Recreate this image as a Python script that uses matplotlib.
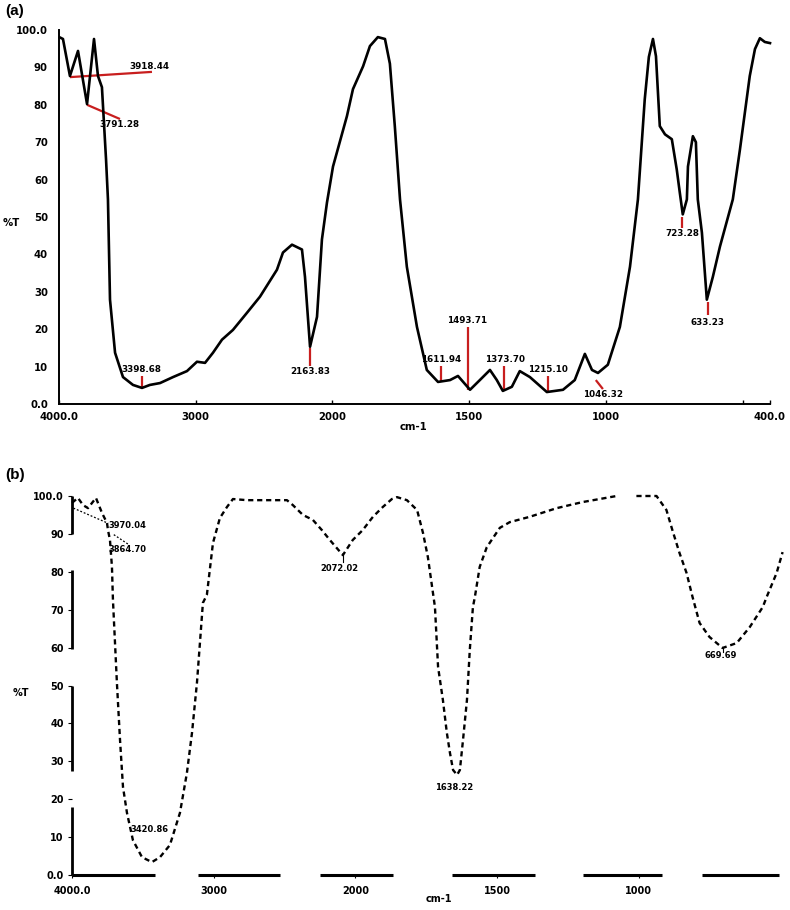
import matplotlib
matplotlib.use('Agg')
import matplotlib.pyplot as plt
import numpy as np

# FTIR spectrum (a): wavenumber (cm-1) and %T
wn_a = [3993, 3971, 3920, 3861, 3795, 3744, 3715, 3686, 3656, 3642, 3627,
        3590, 3532, 3459, 3393, 3335, 3261, 3166, 3064, 2991, 2932, 2874,
        2808, 2728, 2625, 2530, 2406, 2362, 2296, 2223, 2201, 2164, 2113,
        2077, 2040, 1998, 1947, 1925, 1888, 1863, 1834, 1808, 1790, 1772,
        1753, 1728, 1691, 1655, 1614, 1570, 1541, 1497, 1461, 1424, 1399,
        1377, 1344, 1315, 1278, 1216, 1157, 1114, 1077, 1051, 1029, 993,
        949, 912, 883, 858, 843, 828, 817, 803, 784, 759, 741, 730, 719,
        704, 700, 682, 671, 664, 649, 631, 609, 583, 536, 510, 474, 455,
        437, 419, 400]
t_a = [98.0, 97.6, 87.7, 94.4, 80.2, 97.6, 87.7, 84.7, 65.4, 54.7, 27.9,
       13.7, 7.2, 5.1, 4.3, 5.1, 5.6, 7.2, 8.8, 11.3, 11.0, 13.7,
       17.2, 19.8, 24.4, 28.7, 35.9, 40.5, 42.6, 41.3, 34.0, 15.3, 23.3,
       44.0, 53.9, 63.5, 77.0, 84.2, 90.3, 95.7, 98.1, 97.6, 91.0, 74.3,
       54.7, 36.7, 20.6, 9.1, 5.9, 6.4, 7.5, 3.8, 6.4, 9.1, 6.4,
       3.5, 4.6, 8.8, 7.2, 3.2, 3.8, 6.4, 13.4, 9.1, 8.3, 10.5,
       20.6, 36.7, 54.7, 81.5, 92.8, 97.6, 93.0, 74.3, 72.1, 70.8, 62.7, 56.6, 50.7,
       54.7, 63.5, 71.6, 70.0, 54.7, 45.8, 27.9, 34.0, 42.1, 54.7, 68.0, 87.7, 94.9,
       97.8, 96.8, 96.5]

# peak labels (a): text, red marker line (x0, y0, x1, y1), label position, vertical anchor
peaks_a = [
    ("3918.44", (3920, 87.4, 3320, 88.8), (3342, 89.0), 'bottom'),
    ("3791.28", (3795, 80.0, 3554, 76.2), (3556, 76.0), 'top'),
    ("3398.68", (3393, 7.5, 3393, 4.3), (3400, 7.9), 'bottom'),
    ("2163.83", (2164, 15.0, 2164, 10.2), (2164, 9.8), 'top'),
    ("1611.94", (1603, 10.2, 1603, 5.9), (1603, 10.6), 'bottom'),
    ("1493.71", (1505, 20.6, 1505, 3.7), (1507, 21.0), 'bottom'),
    ("1373.70", (1372, 10.2, 1372, 3.5), (1369, 10.6), 'bottom'),
    ("1215.10", (1212, 7.5, 1212, 3.2), (1212, 8.0), 'bottom'),
    ("1046.32", (1037, 6.4, 1011, 4.0), (1011, 3.7), 'top'),
    ("723.28", (722, 50.0, 722, 47.0), (722, 46.8), 'top'),
    ("633.23", (627, 27.3, 627, 23.8), (627, 23.0), 'top'),
]

# FTIR spectrum (b); nan marks the break in the trace
wn_b = [4000, 3958, 3922, 3887, 3831, 3788, 3753, 3746, 3732, 3718, 3711,
        3683, 3661, 3640, 3612, 3570, 3506, 3436, 3379, 3309, 3238, 3189,
        3153, 3118, 3097, 3076, 3048, 3005, 2956, 2906, 2864, 2765, 2624,
        2483, 2441, 2370, 2300, 2236, 2180, 2088, 2018, 1974, 1938, 1903,
        1871, 1853, 1818, 1782, 1761, 1744, 1726, 1719, 1708, 1691, 1677,
        1666, 1655, 1641, 1631, 1620, 1606, 1596, 1585, 1578, 1561, 1536,
        1490, 1455, 1385, 1289, 1198, 1078, 1040, 1008, 937, 902, 881, 856,
        831, 810, 785, 750, 704, 654, 608, 562, 548, 513, 492]
t_b = [98.2, 99.5, 97.6, 96.8, 99.5, 95.5, 92.9, 91.0, 88.4, 81.3, 72.6,
       50.7, 35.6, 23.2, 16.4, 9.2, 4.7, 3.4, 4.7, 7.9, 16.4, 26.9,
       37.5, 50.7, 61.2, 71.8, 73.9, 87.6, 94.2, 97.1, 99.2, 98.9, 98.9,
       98.9, 97.6, 95.0, 93.7, 91.0, 88.4, 84.4, 88.4, 91.0, 94.5, 97.1,
       99.2, 99.7, 98.9, 96.3, 90.2, 83.9, 74.4, 70.7, 54.9, 46.2, 37.5,
       32.2, 27.7, 26.4, 27.7, 35.6, 46.2, 59.4, 70.7, 73.4, 81.3, 86.5,
       91.6, 93.1, 94.5, 96.8, 98.4, 100.0, np.nan, 100.0, 100.0, 96.3, 91.0, 85.0,
       79.7, 73.4, 66.5, 62.8, 59.9, 61.2, 65.4, 70.7, 73.4, 79.7, 85.2]

peaks_b = [
    ("3420.86", (3450, 11.9)),
    ("2072.02", (2112, 81.0)),
    ("1638.22", (1652, 23.0)),
    ("669.69", (712, 57.8)),
    ("3970.04", (3612, 92.3)),
    ("3864.70", (3605, 85.8)),
]

# faded pieces of the scanned axes in (b)
xaxis_pieces_b = [(4000, 3414), (3111, 2533), (2250, 1868), (1659, 1366), (1198, 916), (778, 503)]
yaxis_pieces_b = [(100, 90), (80.5, 59.5), (50, 27.5), (18, 0)]

ticks_y = [0, 10, 20, 30, 40, 50, 60, 70, 80, 90, 100]
ticklab_y = ['0.0', '10', '20', '30', '40', '50', '60', '70', '80', '90', '100.0']


# spectrometer x scale: 4000-2000 is compressed by 2
def fwd(w):
    w = np.asarray(w, dtype=float)
    return np.where(w > 2000, 2000 + (w - 2000) / 2.0, w)


def inv(g):
    g = np.asarray(g, dtype=float)
    return np.where(g > 2000, 2000 + (g - 2000) * 2.0, g)


W, H = 790, 910
fig = plt.figure(figsize=(W / 100, H / 100), dpi=100)
bold = dict(fontweight='bold', family='DejaVu Sans')
red = '#c81e1e'

# ---------------- (a)
ax = fig.add_axes([59 / W, 1 - 404 / H, (770 - 59) / W, (404 - 30) / H])
ax.set_xscale('function', functions=(fwd, inv))
ax.set_xlim(4000, 400)
ax.set_ylim(0, 100)
for lab, (x0, y0, x1, y1), (tx, ty), va in peaks_a:
    ax.plot([x0, x1], [y0, y1], color=red, lw=1.6, zorder=2, solid_capstyle='butt')
ax.plot(wn_a, t_a, color='black', lw=1.9, zorder=3, clip_on=False)
for lab, _, (tx, ty), va in peaks_a:
    ax.text(tx, ty, lab, ha='center', va=va, fontsize=6.3, zorder=4, **bold)
for s in ['top', 'right']:
    ax.spines[s].set_visible(False)
for s in ['left', 'bottom']:
    ax.spines[s].set_linewidth(1.4)
ax.set_yticks(ticks_y)
ax.set_yticklabels(ticklab_y, fontsize=7.3, **bold)
ax.set_xticks([4000, 3000, 2000, 1500, 1000, 500, 400])
ax.set_xticklabels(['4000.0', '3000', '2000', '1500', '1000', '', '400.0'], fontsize=7.3, **bold)
ax.xaxis.set_minor_locator(matplotlib.ticker.NullLocator())
ax.tick_params(axis='y', length=0, pad=8)
ax.tick_params(axis='x', direction='in', length=3, width=1, pad=6)
fig.text(3 / W, 1 - 223 / H, '%T', fontsize=7.3, va='center', **bold)
fig.text(414 / W, 1 - 427 / H, 'cm-1', fontsize=7.3, ha='center', va='center', **bold)
fig.text(5 / W, 1 - 11 / H, '(a)', fontsize=11, va='center', fontweight='bold', family='Liberation Sans')

# ---------------- (b)
bx = fig.add_axes([72 / W, 1 - 875 / H, (786 - 72) / W, (875 - 496) / H])
bx.set_xscale('function', functions=(fwd, inv))
bx.set_xlim(4000, 480)
bx.set_ylim(0, 100)
bx.plot(wn_b, t_b, color='black', lw=1.7, linestyle=(0, (2.2, 1.6)), clip_on=False)
for a0, a1 in xaxis_pieces_b:
    bx.plot([a0, a1], [0, 0], color='black', lw=2.2, clip_on=False, solid_capstyle='butt')
for b0, b1 in yaxis_pieces_b:
    bx.plot([4000, 4000], [b0, b1], color='black', lw=2.0, clip_on=False, solid_capstyle='butt')
for lab, (tx, ty) in peaks_b:
    bx.text(tx, ty, lab, ha='center', va='center', fontsize=6.0, **bold)
# leader marks
bx.plot([2088, 2088], [84.4, 82.5], color='black', lw=0.8)
bx.plot([704, 704], [59.9, 58.8], color='black', lw=0.8)
bx.plot([3990, 3745], [96.8, 92.8], color='black', lw=0.9, linestyle=(0, (1.5, 1.5)))
bx.plot([3705, 3600], [89.8, 87.2], color='black', lw=0.9, linestyle=(0, (1.5, 1.5)))
for s in ['top', 'right', 'left', 'bottom']:
    bx.spines[s].set_visible(False)
bx.set_yticks(ticks_y)
bx.set_yticklabels(ticklab_y, fontsize=7.0, **bold)
bx.set_xticks([4000, 3000, 2000, 1500, 1000])
bx.set_xticklabels(['4000.0', '3000', '2000', '1500', '1000'], fontsize=7.0, **bold)
bx.xaxis.set_minor_locator(matplotlib.ticker.NullLocator())
bx.tick_params(axis='y', length=3, width=0.8, pad=3)
bx.tick_params(axis='x', length=2, width=0.8, pad=6)
fig.text(13 / W, 1 - 693 / H, '%T', fontsize=7.0, va='center', **bold)
fig.text(439 / W, 1 - 899 / H, 'cm-1', fontsize=7.0, ha='center', va='center', **bold)
fig.text(5 / W, 1 - 475 / H, '(b)', fontsize=11, va='center', fontweight='bold', family='Liberation Sans')

fig.savefig('out.png', dpi=100)
